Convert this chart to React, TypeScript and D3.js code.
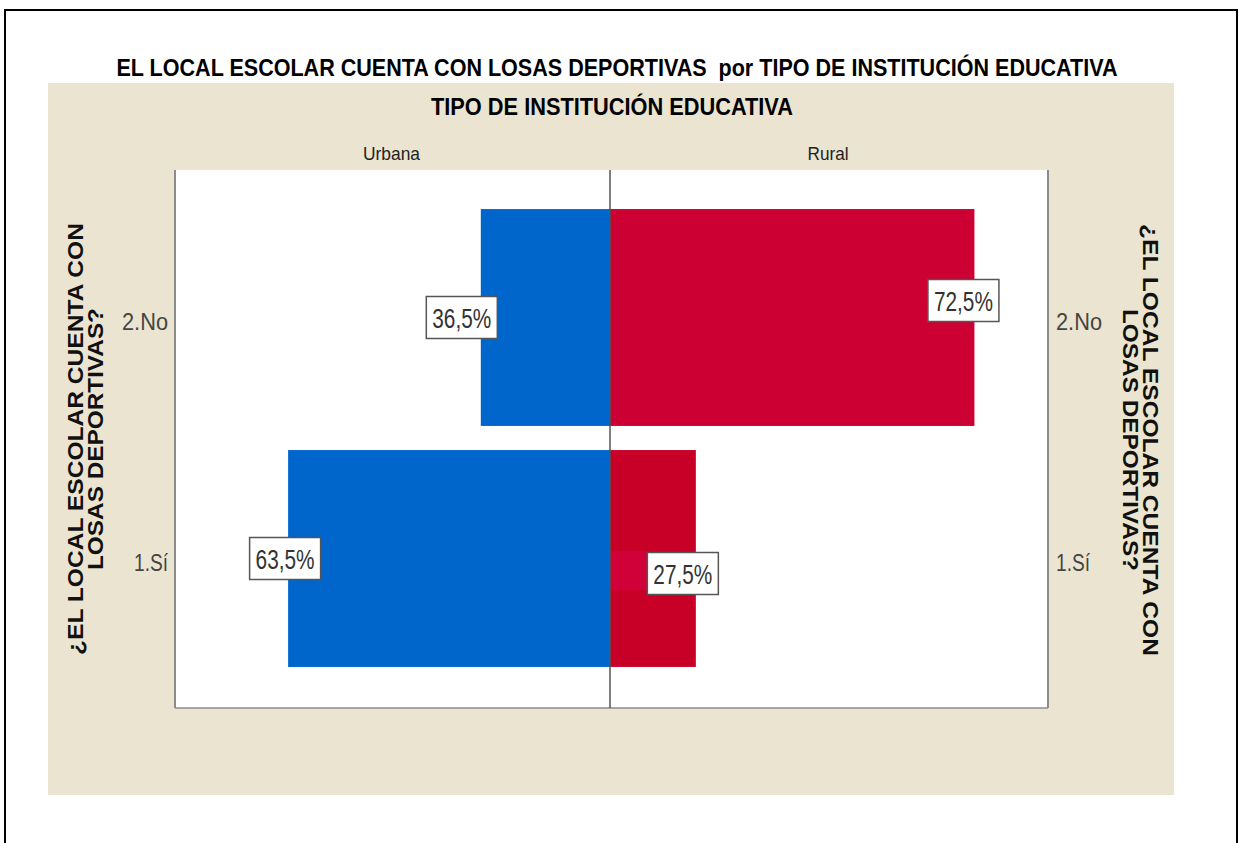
import React from "react";
import * as d3 from "d3";

// chart values
const panels = ["Urbana", "Rural"];
const categories = ["2.No", "1.Sí"];
// bar lengths (relative units, as drawn), one list per panel
const urbanaBars = [29.7, 74.0];
const ruralBars = [83.2, 19.6];
// percentage labels shown on the bars
const urbanaLabels = ["36,5%", "63,5%"];
const ruralLabels = ["72,5%", "27,5%"];

const title = "EL LOCAL ESCOLAR CUENTA CON LOSAS DEPORTIVAS  por TIPO DE INSTITUCIÓN EDUCATIVA";
const panelTitle = "TIPO DE INSTITUCIÓN EDUCATIVA";
const axisTitle = ["¿EL LOCAL ESCOLAR CUENTA CON", "LOSAS DEPORTIVAS?"];

const W = 1239;
const H = 843;
const font = "'Liberation Sans', Arial, sans-serif";

// label nudges relative to bar end (layout only)
const labelDx = [[-19, -3], [-11, -13]];
const labelDy = [[0, 0], [-17, 15]];

export default function App() {
  const plot = { left: 175, right: 1048, top: 170, bottom: 708 };
  const mid = 610;

  const y = d3.scaleBand<string>()
    .domain(categories)
    .range([197, 679])
    .paddingInner(0.1)
    .paddingOuter(0.05);

  const xLeft = d3.scaleLinear().domain([0, 100]).range([mid, plot.left]);
  const xRight = d3.scaleLinear().domain([0, 100]).range([mid, plot.right]);

  const series = [
    { name: panels[0], values: urbanaBars, labels: urbanaLabels, x: xLeft, colors: ["#0066cc", "#0066cc"] },
    { name: panels[1], values: ruralBars, labels: ruralLabels, x: xRight, colors: ["#cc0033", "#c80028"] },
  ];
  const catWidth: Record<string, number> = { "2.No": 46, "1.Sí": 34 };

  return (
    <svg width={W} height={H} style={{ position: "absolute", left: 0, top: 0, background: "#fff" }}>
      {/* outer frame */}
      <rect x={5} y={10} width={1232} height={H} fill="none" stroke="#000" strokeWidth={2} />

      <text x={617} y={76} textAnchor="middle" fontFamily={font} fontWeight="bold" fontSize={24}
        textLength={1001} lengthAdjust="spacingAndGlyphs" fill="#000" style={{ whiteSpace: "pre" }}>{title}</text>

      {/* beige panel */}
      <rect x={48} y={83} width={1126} height={712} fill="#ebe4d0" />
      <text x={612} y={115} textAnchor="middle" fontFamily={font} fontWeight="bold" fontSize={24}
        textLength={362} lengthAdjust="spacingAndGlyphs" fill="#000">{panelTitle}</text>

      {/* plot area */}
      <rect x={plot.left} y={plot.top} width={plot.right - plot.left} height={plot.bottom - plot.top} fill="#fff" />
      <line x1={plot.left} x2={plot.left} y1={plot.top} y2={plot.bottom} stroke="#8c8c8c" strokeWidth={2} />
      <line x1={plot.right} x2={plot.right} y1={plot.top} y2={plot.bottom} stroke="#8c8c8c" strokeWidth={2} />
      <line x1={plot.left} x2={plot.right} y1={plot.bottom} y2={plot.bottom} stroke="#8c8c8c" strokeWidth={1.5} />

      {/* panel headers */}
      <text x={(plot.left + mid) / 2 - 1} y={160} textAnchor="middle" fontFamily={font} fontSize={19} fill="#222"
        textLength={57} lengthAdjust="spacingAndGlyphs">{panels[0]}</text>
      <text x={(mid + plot.right) / 2 - 1} y={160} textAnchor="middle" fontFamily={font} fontSize={19} fill="#222"
        textLength={41} lengthAdjust="spacingAndGlyphs">{panels[1]}</text>

      {/* bars */}
      {series.map((s, si) =>
        s.values.map((v, i) => {
          const x0 = s.x(0);
          const x1 = s.x(v);
          return (
            <rect key={`${si}-${i}`} x={Math.min(x0, x1)} y={y(categories[i])} width={Math.abs(x1 - x0)}
              height={y.bandwidth()} fill={s.colors[i]} />
          );
        })
      )}
      {/* faint highlight behind rural Sí label */}
      <rect x={mid} y={y(categories[1])! + 101} width={41} height={39} fill="#d2003c" opacity={0.8} />

      <line x1={mid} x2={mid} y1={plot.top} y2={plot.bottom} stroke="#555" strokeWidth={1.5} />

      {/* value labels */}
      {series.map((s, si) =>
        s.values.map((v, i) => {
          const cx = s.x(v) + labelDx[si][i];
          const cy = y(categories[i])! + y.bandwidth() / 2 + labelDy[si][i];
          const bw = 71;
          const bh = 42;
          return (
            <g key={`l-${si}-${i}`}>
              <rect x={cx - bw / 2} y={cy - bh / 2} width={bw} height={bh} fill="#fff" stroke="#555" strokeWidth={1.5} />
              <text x={cx} y={cy + 10} textAnchor="middle" fontFamily={font} fontSize={27} fill="#333"
                textLength={59} lengthAdjust="spacingAndGlyphs">{s.labels[i]}</text>
            </g>
          );
        })
      )}

      {/* category labels, both sides */}
      {categories.map((c) => {
        const cy = y(c)! + y.bandwidth() / 2 + 12;
        return (
          <g key={c}>
            <text x={168} y={cy} textAnchor="end" fontFamily={font} fontSize={23} fill="#444"
              textLength={catWidth[c]} lengthAdjust="spacingAndGlyphs">{c}</text>
            <text x={1056} y={cy} textAnchor="start" fontFamily={font} fontSize={23} fill="#444"
              textLength={catWidth[c]} lengthAdjust="spacingAndGlyphs">{c}</text>
          </g>
        );
      })}

      {/* axis titles */}
      <g transform="translate(83,439) rotate(-90)">
        <text x={0} y={0} textAnchor="middle" fontFamily={font} fontWeight="bold" fontSize={22} fill="#111"
          textLength={432} lengthAdjust="spacingAndGlyphs">{axisTitle[0]}</text>
        <text x={0} y={20} textAnchor="middle" fontFamily={font} fontWeight="bold" fontSize={22} fill="#111"
          textLength={262} lengthAdjust="spacingAndGlyphs">{axisTitle[1]}</text>
      </g>
      <g transform="translate(1143,440) rotate(90)">
        <text x={0} y={0} textAnchor="middle" fontFamily={font} fontWeight="bold" fontSize={22} fill="#111"
          textLength={432} lengthAdjust="spacingAndGlyphs">{axisTitle[0]}</text>
        <text x={0} y={20} textAnchor="middle" fontFamily={font} fontWeight="bold" fontSize={22} fill="#111"
          textLength={262} lengthAdjust="spacingAndGlyphs">{axisTitle[1]}</text>
      </g>
    </svg>
  );
}
